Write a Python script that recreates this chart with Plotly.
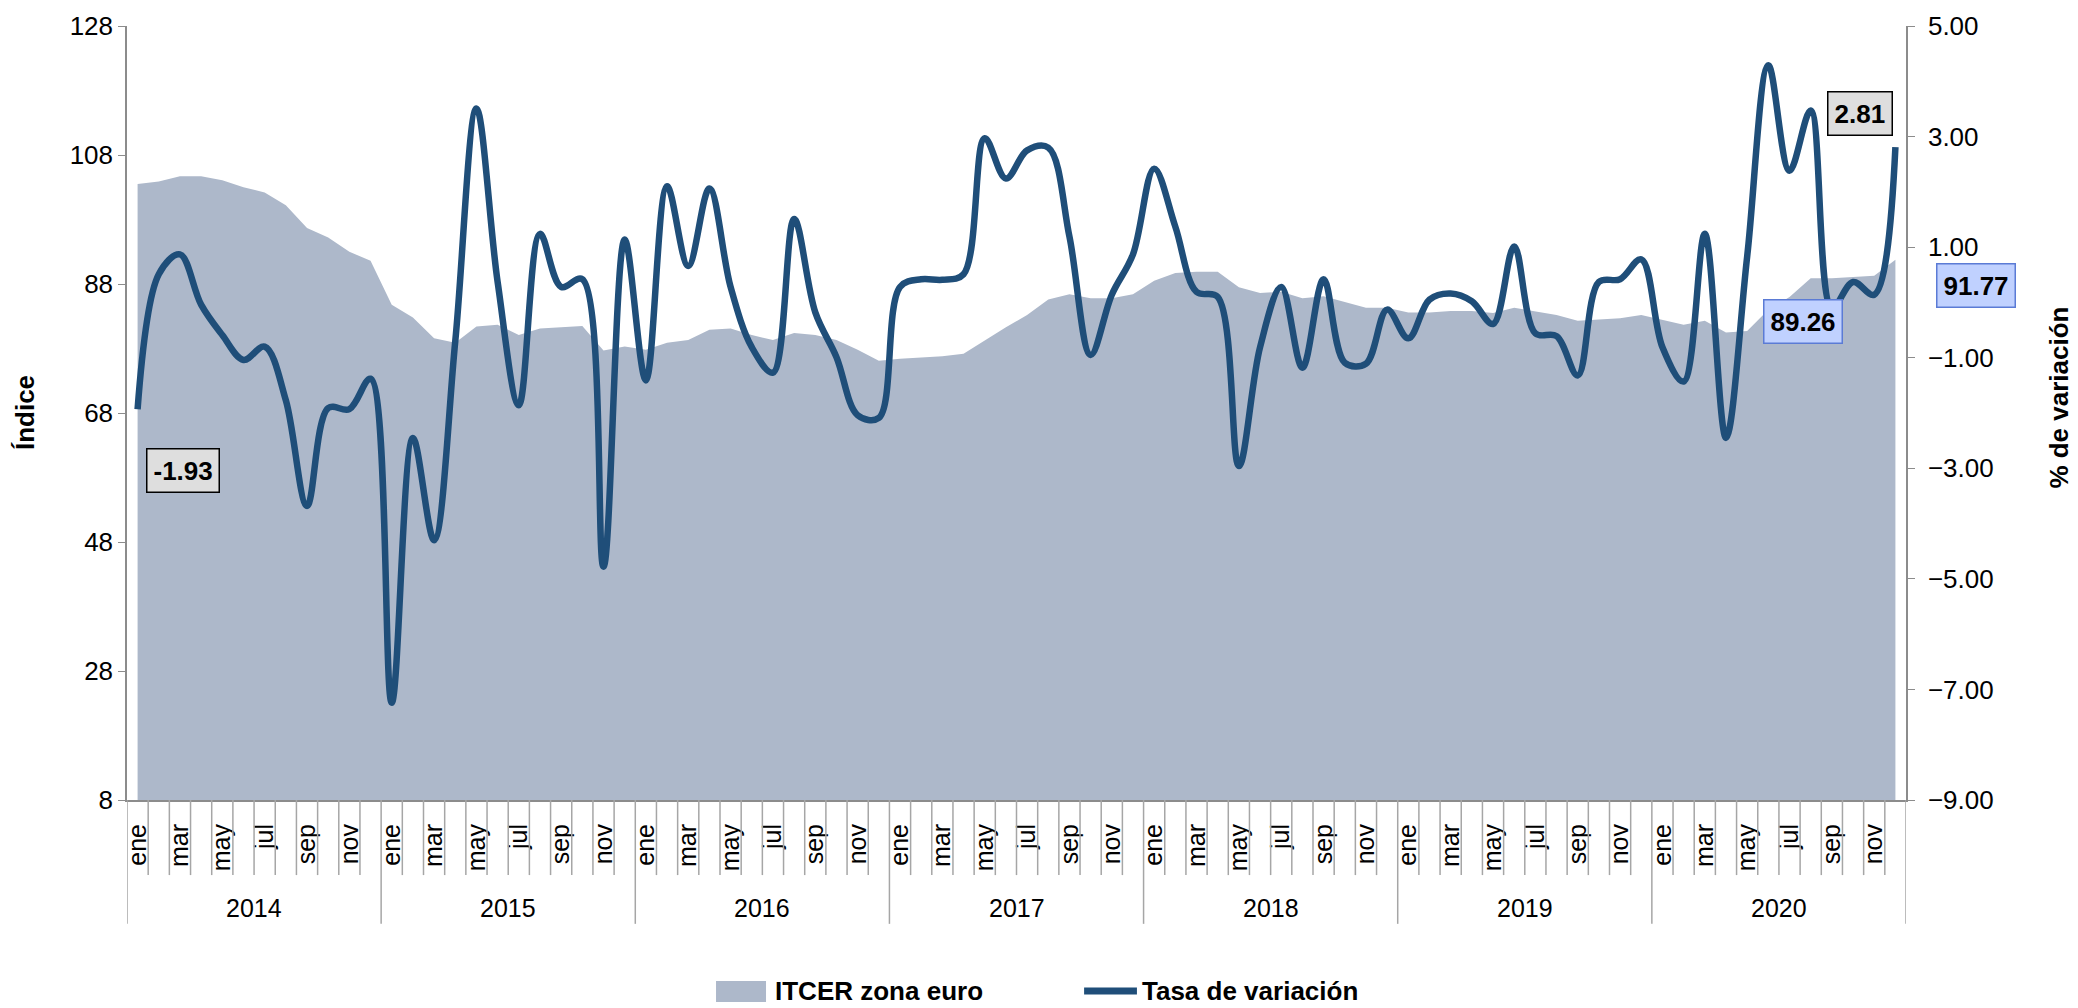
import plotly.graph_objects as go

# Monthly data, ene 2014 - dic 2020
meses = ["ene", "feb", "mar", "abr", "may", "jun", "jul", "ago", "sep", "oct", "nov", "dic"]
anios = ["2014", "2015", "2016", "2017", "2018", "2019", "2020"]

itcer = [
    103.5, 103.9, 104.7, 104.7, 104.1, 103.0, 102.2, 100.2, 96.7, 95.2, 93.0, 91.6,
    84.8, 82.8, 79.6, 78.9, 81.4, 81.7, 80.1, 81.1, 81.3, 81.5, 77.7, 78.3,
    77.8, 78.9, 79.3, 80.9, 81.1, 80.1, 79.3, 80.4, 80.1, 79.3, 77.8, 76.1,
    76.4, 76.6, 76.8, 77.2, 79.3, 81.3, 83.2, 85.6, 86.4, 85.8, 85.8, 86.4,
    88.5, 89.7, 89.9, 89.9, 87.5, 86.6, 86.8, 85.8, 86.1, 85.2, 84.3, 84.3,
    83.6, 83.6, 83.8, 83.8, 83.5, 84.3, 83.8, 83.2, 82.3, 82.5, 82.7, 83.2,
    82.5, 81.7, 82.3, 80.5, 80.7, 84.0, 86.0, 88.9, 88.9, 89.1, 89.26, 91.77,
]

tasa = [
    -1.93, 0.51, 0.87, -0.04, -0.59, -1.04, -0.80, -1.77, -3.68, -1.91, -1.93, -1.38,
    -7.24, -2.45, -4.30, -0.70, 3.51, 0.37, -1.86, 1.24, 0.28, 0.42, -4.78, 1.14,
    -1.41, 2.10, 0.66, 2.06, 0.28, -0.81, -1.27, 1.51, -0.18, -0.99, -2.04, -2.09,
    0.28, 0.42, 0.41, 0.51, 2.97, 2.24, 2.75, 2.80, 1.19, -0.95, 0.14, 0.87,
    2.42, 1.37, 0.19, 0.10, -2.96, -0.81, 0.28, -1.18, 0.42, -1.09, -1.11, -0.13,
    -0.65, 0.05, 0.16, 0.02, -0.39, 1.01, -0.56, -0.61, -1.32, 0.37, 0.42, 0.78,
    -0.81, -1.43, 1.24, -2.45, 0.83, 4.29, 2.38, 3.47, -0.10, 0.37, 0.14, 2.81,
]

n = len(itcer)
x = list(range(n))
FONT = "Liberation Sans, Arial, sans-serif"
GRAY = "#8C8C8C"
AREA = "#ADB8CA"
LINE = "#1F4E79"

fig = go.Figure()

fig.add_trace(go.Scatter(
    x=x, y=itcer, name="ITCER zona euro", mode="lines",
    fill="tozeroy", fillcolor=AREA,
    line=dict(width=0, color=AREA),
))

fig.add_trace(go.Scatter(
    x=x, y=tasa, name="Tasa de variación", mode="lines", yaxis="y2",
    line=dict(color=LINE, width=6.5, shape="spline", smoothing=1),
))

# tick lines between months, and longer year separators
shapes = []
for i in range(n + 1):
    is_year = i % 12 == 0
    shapes.append(dict(
        type="line", xref="x", yref="paper",
        x0=i - 0.5, x1=i - 0.5, y0=0, y1=-0.160 if is_year else -0.097,
        line=dict(color="#A6A6A6", width=1.5),
    ))

# hand-made legend at the bottom
shapes.append(dict(type="rect", xref="paper", yref="paper",
                   x0=0.3311, x1=0.3592, y0=-0.2610, y1=-0.2339,
                   fillcolor=AREA, line=dict(width=0)))
shapes.append(dict(type="line", xref="paper", yref="paper",
                   x0=0.5380, x1=0.5677, y0=-0.2468, y1=-0.2468,
                   line=dict(color=LINE, width=7)))

annotations = []
for k, a in enumerate(anios):
    annotations.append(dict(
        x=5.5 + 12 * k, xref="x", y=-0.1395, yref="paper",
        text=a, showarrow=False, yanchor="middle",
        font=dict(family=FONT, size=25, color="black"),
    ))

leg_font = dict(family=FONT, size=26, color="black")
annotations.append(dict(x=0.3631, y=-0.2468, xref="paper", yref="paper",
                        text="<b>ITCER zona euro</b>", showarrow=False,
                        xanchor="left", yanchor="middle", font=leg_font))
annotations.append(dict(x=0.5694, y=-0.2468, xref="paper", yref="paper",
                        text="<b>Tasa de variación</b>", showarrow=False,
                        xanchor="left", yanchor="middle", font=leg_font))

# axis titles
annotations.append(dict(
    x=-0.0573, xref="paper", y=0.5, yref="paper", text="<b>Índice</b>",
    textangle=-90, showarrow=False, xanchor="center", yanchor="middle",
    font=dict(family=FONT, size=26, color="black"),
))
annotations.append(dict(
    x=1.0855, xref="paper", y=0.52, yref="paper", text="<b>% de variación</b>",
    textangle=-90, showarrow=False, xanchor="center", yanchor="middle",
    font=dict(family=FONT, size=26, color="black"),
))

# data labels
grey_box = dict(bgcolor="#DEDEDE", bordercolor="black", borderwidth=1.5, borderpad=6)
blue_box = dict(bgcolor="#C0D1FF", bordercolor="#5B7BD5", borderwidth=1.5, borderpad=6)
lab_font = dict(family=FONT, size=26, color="black")

annotations.append(dict(x=0, y=tasa[0], xref="x", yref="y2", text=f"<b>{tasa[0]:.2f}</b>",
                        showarrow=False, xshift=45, yshift=-61, font=lab_font, **grey_box))
annotations.append(dict(x=n - 1, y=tasa[-1], xref="x", yref="y2", text=f"<b>{tasa[-1]:.2f}</b>",
                        showarrow=False, xshift=-35, yshift=34, font=lab_font, **grey_box))
annotations.append(dict(x=n - 2, y=itcer[-2], xref="x", yref="y", text=f"<b>{itcer[-2]:.2f}</b>",
                        showarrow=False, xshift=-71, yshift=-46, font=lab_font, **blue_box))
annotations.append(dict(x=n - 1, y=itcer[-1], xref="x", yref="y", text=f"<b>{itcer[-1]:.2f}</b>",
                        showarrow=False, xshift=81, yshift=-26, font=lab_font, **blue_box))

fig.update_layout(
    width=2078, height=1008,
    margin=dict(l=127, r=172, t=26, b=208, autoexpand=False),
    paper_bgcolor="white", plot_bgcolor="white",
    font=dict(family=FONT, color="black"),
    showlegend=False,
    xaxis=dict(
        range=[-0.5, n - 0.5], showgrid=False, zeroline=False, automargin=False,
        showline=True, linecolor=GRAY, linewidth=2,
        tickmode="array", tickvals=x[::2], ticktext=[meses[i % 12] for i in x[::2]],
        tickangle=-90, ticks="", ticklabelstandoff=12,
        tickfont=dict(family=FONT, size=25, color="black"),
    ),
    yaxis=dict(
        range=[8, 128], tickmode="array", tickvals=list(range(8, 129, 20)),
        showgrid=False, zeroline=False, showline=True, linecolor=GRAY, linewidth=1.5,
        ticks="outside", ticklen=7, tickcolor=GRAY, automargin=False,
        tickfont=dict(family=FONT, size=26, color="black"),
    ),
    yaxis2=dict(
        range=[-9, 5], overlaying="y", side="right", tickmode="array",
        tickvals=list(range(-9, 6, 2)), tickformat=".2f",
        showgrid=False, zeroline=False, showline=True, linecolor=GRAY, linewidth=1.5,
        ticks="outside", ticklen=7, tickcolor=GRAY, ticklabelstandoff=8, automargin=False,
        tickfont=dict(family=FONT, size=26, color="black"),
    ),
    shapes=shapes,
    annotations=annotations,
)

# drop the page's default body margin so the figure sits at the window corner
fig.write_html("out.html", config={"displayModeBar": False},
               post_script="document.body.style.margin='0';")
